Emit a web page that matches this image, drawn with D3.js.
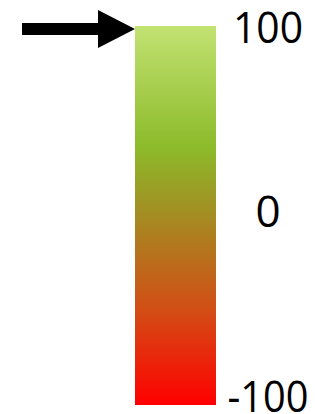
<!DOCTYPE html>
<html>
<head>
<meta charset="utf-8">
<script src="https://cdn.jsdelivr.net/npm/d3@7"></script>
<style>
  html, body { margin: 0; padding: 0; background: #fff; }
</style>
</head>
<body>
<div id="chart"></div>
<script>
// data
const domain = [-100, 100]
const tickValues = [100, 0, -100]
const pointerValue = 100
const gradientOffsets = [0, 0.32, 0.5, 0.75, 1]
const gradientColors = ["#c2e272", "#8cbb2a", "#a48c22", "#d24d15", "#ff0000"]

const width = 315
const height = 414

const svg = d3.select("#chart")
    .append("svg")
    .attr("width", width)
    .attr("height", height)

// scale
const y = d3.scaleLinear().domain(domain).range([396, 27])

// 渐变
const grad = svg.append("defs")
    .append("linearGradient")
    .attr("id", "grad")
    .attr("x1", 0).attr("y1", 0)
    .attr("x2", 0).attr("y2", 1)
grad.selectAll("stop")
    .data(gradientOffsets)
    .join("stop")
    .attr("offset", d => d)
    .attr("stop-color", (d, i) => gradientColors[i])

// bar
svg.append("rect")
    .attr("x", 135)
    .attr("y", 26)
    .attr("width", 81)
    .attr("height", 379)
    .attr("fill", "url(#grad)")

// labels
svg.append("g")
    .selectAll("text")
    .data(tickValues)
    .join("text")
    .attr("x", 268)
    .attr("y", d => y(d))
    .attr("dy", "0.36em")
    .attr("text-anchor", "middle")
    .attr("font-family", "'Open Sans', sans-serif")
    .attr("font-size", 44)
    .attr("textLength", d => d < 0 ? 81 : (d > 0 ? 70 : null))
    .attr("lengthAdjust", "spacingAndGlyphs")
    .attr("fill", "#000")
    .text(d => d)

// 箭头
const py = y(pointerValue) + 2
svg.append("path")
    .attr("d", `M22,${py - 6}H98V${py - 19}L135,${py}L98,${py + 19}V${py + 6}H22Z`)
    .attr("fill", "#000")
</script>
</body>
</html>
